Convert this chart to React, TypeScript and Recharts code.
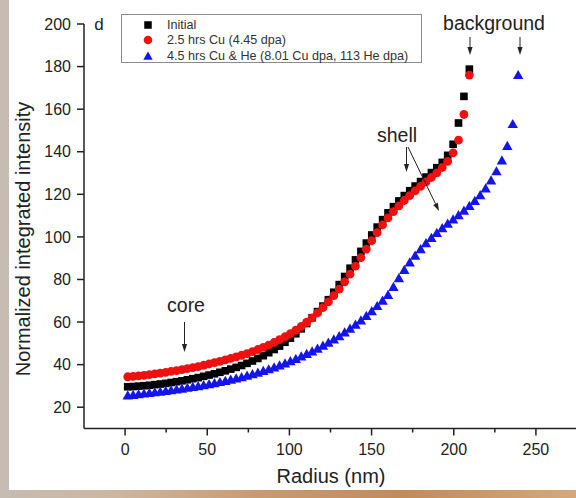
import React from 'react';
import { ScatterChart, Scatter, XAxis, YAxis, Legend } from 'recharts';

// radial bins (nm)
const radius = [
  1.6, 4.9, 8.2, 11.5, 14.8, 18.1, 21.4, 24.7, 28.0, 31.3, 34.6, 37.9, 41.2, 44.5, 47.8, 51.1,
  54.4, 57.7, 61.0, 64.3, 67.6, 70.9, 74.2, 77.5, 80.8, 84.1, 87.4, 90.7, 94.0, 97.3, 100.6, 103.9,
  107.2, 110.5, 113.8, 117.1, 120.4, 123.7, 127.0, 130.3, 133.6, 136.9, 140.2, 143.5, 146.8, 150.1,
  153.4, 156.7, 160.0, 163.3, 166.6, 169.9, 173.2, 176.5, 179.8, 183.1, 186.4, 189.7, 193.0, 196.3,
  199.6, 202.9, 206.2, 209.5, 212.8, 216.1, 219.4, 222.7, 226.0, 229.3, 232.6, 235.9, 239.2,
];

const initial = [
  29.6, 29.7, 29.9, 30.1, 30.3, 30.6, 30.9, 31.2, 31.6, 32.0, 32.4, 32.9, 33.4, 33.9, 34.5, 35.1,
  35.7, 36.4, 37.1, 37.9, 38.7, 39.6, 40.6, 41.7, 42.9, 44.2, 45.6, 47.1, 48.7, 50.5, 52.4, 54.5,
  56.8, 59.3, 62.0, 64.9, 67.5, 70.5, 74.0, 77.6, 81.4, 85.3, 89.2, 93.2, 97.1, 100.9, 104.6, 108.1,
  111.3, 114.2, 116.9, 119.4, 121.7, 123.9, 126.0, 128.1, 130.2, 132.5, 135.0, 138.3, 143.5, 153.5,
  166.0, 178.8,
];

const cu = [
  34.3, 34.5, 34.7, 35.0, 35.3, 35.7, 36.0, 36.4, 36.8, 37.2, 37.7, 38.1, 38.6, 39.1, 39.7, 40.3,
  40.9, 41.5, 42.2, 42.9, 43.6, 44.4, 45.2, 46.1, 47.1, 48.1, 49.2, 50.4, 51.7, 53.1, 54.6, 56.2,
  58.0, 59.9, 62.0, 64.3, 66.8, 69.5, 72.4, 75.5, 78.9, 82.5, 86.3, 90.3, 94.3, 98.2, 102.0, 105.6,
  108.9, 111.9, 114.6, 117.1, 119.4, 121.6, 123.7, 125.8, 127.9, 130.1, 132.6, 135.5, 139.5, 145.5,
  157.5, 176.0,
];

const cuHe = [
  25.3, 25.6, 25.9, 26.2, 26.5, 26.8, 27.1, 27.4, 27.8, 28.1, 28.5, 28.9, 29.3, 29.7, 30.1, 30.6,
  31.1, 31.6, 32.1, 32.7, 33.3, 33.9, 34.6, 35.3, 36.0, 36.8, 37.6, 38.5, 39.4, 40.4, 41.4, 42.5,
  43.6, 44.8, 46.0, 47.3, 48.7, 50.1, 51.6, 53.2, 54.9, 56.7, 58.6, 60.6, 62.7, 64.9, 67.3, 69.8,
  72.5, 76.3, 80.4, 84.3, 87.8, 91.0, 94.0, 96.8, 99.3, 101.7, 103.9, 106.0, 108.0, 110.0, 112.1,
  114.3, 116.7, 119.4, 122.6, 126.3, 130.6, 135.7, 142.5, 152.8, 175.8,
];

const seriesNames = ['Initial', '2.5 hrs Cu (4.45 dpa)', '4.5 hrs Cu & He (8.01 Cu dpa, 113 He dpa)'];
const xTicks = [0, 25, 50, 75, 100, 125, 150, 175, 200, 225, 250];
const yTicks = [20, 30, 40, 50, 60, 70, 80, 90, 100, 110, 120, 130, 140, 150, 160, 170, 180, 190, 200];

const FONT = '"Liberation Sans", Arial, sans-serif';
const INK = '#222';
const RED = '#f01010';
const BLUE = '#1414f0';

const toPoints = (vals: number[]) => vals.map((v, i) => ({ r: radius[i], v }));

// marker drawing, at the positions recharts computes (cx, cy)
const drawSquare = (cx: number, cy: number, side = 7.6) => (
  <rect x={cx - side / 2} y={cy - side / 2} width={side} height={side} fill="#000" />
);
const drawDot = (cx: number, cy: number, rad = 4.4) => <circle cx={cx} cy={cy} r={rad} fill={RED} />;
const drawTri = (cx: number, cy: number, k = 1) => (
  <polygon
    points={`${cx},${cy - 5.6 * k} ${cx - 5.2 * k},${cy + 3.6 * k} ${cx + 5.2 * k},${cy + 3.6 * k}`}
    fill={BLUE}
  />
);

const SquareShape = (p: any) => drawSquare(p.cx, p.cy);
const DotShape = (p: any) => drawDot(p.cx, p.cy);
const TriShape = (p: any) => drawTri(p.cx, p.cy);

const TICK_SIZE = 7;
const TICK_MARGIN = 5;

const XTick = (props: any) => {
  const { x, y, payload } = props;
  const major = payload.value % 50 === 0;
  const axisY = y - TICK_SIZE - TICK_MARGIN;
  return (
    <g>
      <line x1={x} x2={x} y1={axisY} y2={axisY + (major ? 7 : 4)} stroke={INK} strokeWidth={1.5} />
      {major && (
        <text x={x} y={axisY + 26} textAnchor="middle" fontSize={16} fill={INK} fontFamily={FONT}>
          {payload.value}
        </text>
      )}
    </g>
  );
};

const YTick = (props: any) => {
  const { x, y, payload } = props;
  const major = payload.value % 20 === 0;
  const axisX = x + TICK_SIZE + TICK_MARGIN;
  return (
    <g>
      <line x1={axisX} x2={axisX - (major ? 7 : 4)} y1={y} y2={y} stroke={INK} strokeWidth={1.5} />
      {major && (
        <text x={axisX - 13} y={y + 5.7} textAnchor="end" fontSize={16} fill={INK} fontFamily={FONT}>
          {payload.value}
        </text>
      )}
    </g>
  );
};

const legendMarks = [
  () => drawSquare(26, 8, 7.5),
  () => drawDot(26, 8, 4.3),
  () => drawTri(26, 8.5, 0.9),
];

const renderLegend = () => (
  <div
    style={{
      boxSizing: 'border-box',
      width: 301,
      height: 49,
      border: '1.5px solid #8c8c8c',
      background: '#fff',
      fontFamily: FONT,
      fontSize: 12.6,
      color: '#333',
      position: 'relative',
    }}
  >
    {seriesNames.map((name, i) => (
      <div key={name} style={{ position: 'absolute', left: 0, top: 1.5 + i * 15.5, height: 16, width: 300 }}>
        <svg width={40} height={16} style={{ position: 'absolute', left: 0, top: 0 }}>
          {legendMarks[i]()}
        </svg>
        <span style={{ position: 'absolute', left: 45, top: 0, lineHeight: '16px', whiteSpace: 'nowrap' }}>
          {name}
        </span>
      </div>
    ))}
  </div>
);

const Arrow = ({ x1, y1, x2, y2 }: { x1: number; y1: number; x2: number; y2: number }) => {
  const a = Math.atan2(y2 - y1, x2 - x1);
  const L = 8;
  const W = 2.6;
  const bx = x2 - L * Math.cos(a);
  const by = y2 - L * Math.sin(a);
  const px = -Math.sin(a) * W;
  const py = Math.cos(a) * W;
  return (
    <g>
      <line x1={x1} y1={y1} x2={bx} y2={by} stroke={INK} strokeWidth={1} />
      <polygon points={`${x2},${y2} ${bx + px},${by + py} ${bx - px},${by - py}`} fill={INK} />
    </g>
  );
};

export default function App() {
  return (
    <div
      style={{
        position: 'absolute',
        left: 0,
        top: 0,
        width: 576,
        height: 498,
        overflow: 'hidden',
        background: 'linear-gradient(90deg, #c6bcb2 0%, #cdb6a0 20%, #c99a70 45%, #c48a58 70%, #d6a878 100%)',
      }}
    >
      <div style={{ position: 'absolute', left: 9, top: 0, width: 567, height: 490, background: '#fff' }} />
      <div style={{ position: 'absolute', left: 0, top: 0 }}>
        <ScatterChart width={578} height={498} margin={{ top: 24, right: 1, bottom: 38.5, left: 24 }}>
          <XAxis
            type="number"
            dataKey="r"
            domain={[-25, 275]}
            ticks={xTicks}
            tickSize={TICK_SIZE}
            tickMargin={TICK_MARGIN}
            tickLine={false}
            tick={<XTick />}
            axisLine={{ stroke: INK, strokeWidth: 1.5 }}
            height={31}
            allowDataOverflow
          />
          <YAxis
            type="number"
            dataKey="v"
            domain={[10, 200]}
            ticks={yTicks}
            tickSize={TICK_SIZE}
            tickMargin={TICK_MARGIN}
            tickLine={false}
            tick={<YTick />}
            axisLine={{ stroke: INK, strokeWidth: 1.5 }}
            width={60}
            allowDataOverflow
          />
          <Legend
            layout="vertical"
            align="center"
            verticalAlign="middle"
            content={renderLegend}
            wrapperStyle={{ left: 121, top: 14, width: 301, height: 49 }}
          />
          <Scatter name={seriesNames[0]} data={toPoints(initial)} shape={SquareShape} isAnimationActive={false} />
          <Scatter name={seriesNames[1]} data={toPoints(cu)} shape={DotShape} isAnimationActive={false} />
          <Scatter name={seriesNames[2]} data={toPoints(cuHe)} shape={TriShape} isAnimationActive={false} />
        </ScatterChart>
      </div>
      <svg
        width={576}
        height={498}
        style={{ position: 'absolute', left: 0, top: 0, pointerEvents: 'none' }}
        fontFamily={FONT}
        fill={INK}
      >
        <text x={99} y={30} fontSize={17} textAnchor="middle">d</text>
        <text x={494} y={29.5} fontSize={19.5} textAnchor="middle">background</text>
        <Arrow x1={470} y1={37} x2={470} y2={55} />
        <Arrow x1={520} y1={37} x2={520} y2={55} />
        <text x={397} y={141.5} fontSize={19.5} textAnchor="middle">shell</text>
        <Arrow x1={406.5} y1={147} x2={406.5} y2={172} />
        <Arrow x1={408} y1={147} x2={439} y2={211} />
        <text x={186} y={311.5} fontSize={19.5} textAnchor="middle">core</text>
        <Arrow x1={184.5} y1={322} x2={184.5} y2={352} />
        <text x={331} y={483} fontSize={20} textAnchor="middle">Radius (nm)</text>
        <text transform="translate(29.5,239) rotate(-90)" fontSize={20} textAnchor="middle">
          Normalized integrated intensity
        </text>
      </svg>
    </div>
  );
}
